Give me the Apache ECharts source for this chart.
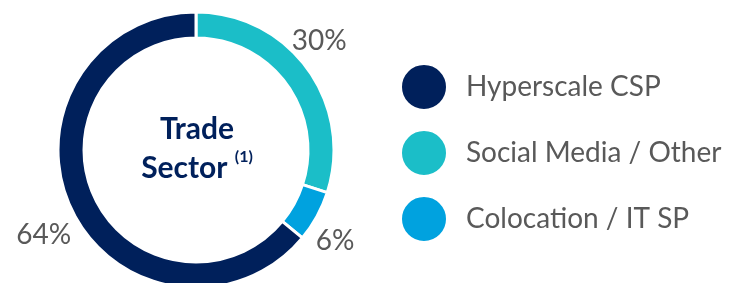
<!DOCTYPE html>
<html>
<head>
<meta charset="utf-8">
<script src="https://cdn.jsdelivr.net/npm/echarts@6/dist/echarts.min.js"></script>
<style>
  html, body { margin: 0; padding: 0; background: #fff; }
  #chart { width: 735px; height: 283px; }
</style>
</head>
<body>
<div id="chart"></div>
<script>
// donut data, clockwise from 12 o'clock
let sectors = ["Social Media / Other", "Colocation / IT SP", "Hyperscale CSP"];
let shares = [30, 6, 64];
let colors = ["#1bbec8", "#00a2df", "#00205b"];
// legend order as shown on the right
let legendOrder = ["Hyperscale CSP", "Social Media / Other", "Colocation / IT SP"];

var dom = document.getElementById("chart");
var myChart = echarts.init(dom);

var font = "Lato, 'Open Sans', sans-serif";

// nudge the percent labels to where they sit in the slide
var labelShift = [[-29, -22], [-15, 20], [14, 22]];

var option = {
    animation: false,
    title: {
        text: "{a|Trade}\n{a|Sector }{b|(1)}",
        left: 192,
        top: 105,
        textAlign: "center",
        textStyle: {
            rich: {
                a: { fontFamily: font, fontWeight: "bold", fontSize: 30, color: "#00205b", lineHeight: 39 },
                b: { fontFamily: font, fontWeight: "bold", fontSize: 16, color: "#00205b", verticalAlign: "top", lineHeight: 39 }
            }
        }
    },
    legend: {
        orient: "vertical",
        left: 395,
        top: 58,
        icon: "circle",
        itemWidth: 46,
        itemHeight: 46,
        itemGap: 18,
        selectedMode: false,
        data: legendOrder,
        textStyle: { fontFamily: font, fontSize: 28, color: "#595959", padding: [0, 0, 0, 14] }
    },
    series: [{
        type: "pie",
        center: [196, 150],
        radius: [112, 138],
        startAngle: 90,
        clockwise: true,
        avoidLabelOverlap: false,
        itemStyle: { borderColor: "#fff", borderWidth: 3 },
        label: {
            show: true,
            position: "outside",
            formatter: "{c}%",
            fontFamily: font,
            fontSize: 28,
            color: "#595959"
        },
        labelLine: { show: false, length: 10, length2: 0 },
        labelLayout: function (params) {
            let s = labelShift[params.dataIndex];
            return { dx: s[0], dy: s[1] };
        },
        emphasis: { disabled: true },
        data: sectors.map((name, i) => ({
            name: name,
            value: shares[i],
            itemStyle: { color: colors[i] }
        }))
    }]
};

myChart.setOption(option);
</script>
</body>
</html>
